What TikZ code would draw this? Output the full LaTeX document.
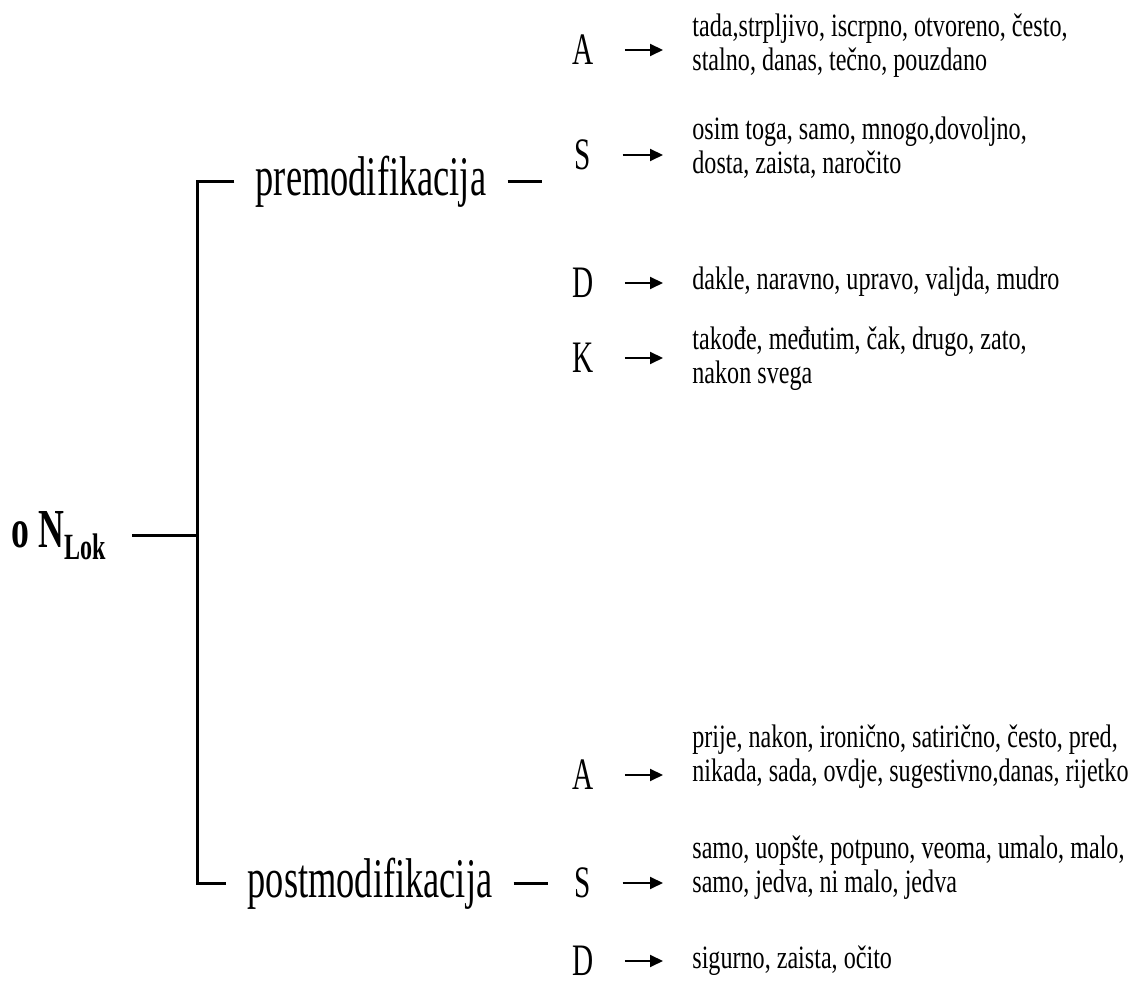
\documentclass[tikz,border=0pt]{standalone}
\usepackage{fontspec}
\setmainfont{Liberation Serif}[FakeStretch=0.65]
\newfontfamily\wordfont{Liberation Serif}[FakeStretch=0.74]
\usetikzlibrary{arrows.meta}

\begin{document}
\begin{tikzpicture}[x=0.5pt,y=-0.5pt,
    branch/.style={line width=1.5pt},
    lvl/.style={font=\fontsize{28}{30}\selectfont, inner xsep=10.5pt, inner ysep=0pt},
    tag/.style={font=\fontsize{22.5}{24}\selectfont, inner xsep=15.5pt, inner ysep=0pt},
    words/.style={font=\wordfont\fontsize{16.3}{17}\selectfont, align=left, anchor=west,
                  inner xsep=14.5pt, inner ysep=0pt},
    pointer/.style={line width=1pt, -{Triangle[length=6.5pt,width=6pt]}}]
  \useasboundingbox (0,0) rectangle (1132,983);
  \node[font=\bfseries\fontsize{27.5}{29}\selectfont, anchor=east, inner xsep=13pt]
    (root) at (132,536) {o N\raisebox{-6pt}{\fontsize{18.5}{18.5}\selectfont Lok}};
  \coordinate (fork) at (197,536);
  \node[lvl] (pre)  at (371,182) {premodifikacija};
  \node[lvl] (post) at (370,884) {postmodifikacija};
  \coordinate (pre-end)  at (542,182);
  \coordinate (post-end) at (548,884);
  \draw[branch] (root.east) -- (fork);
  \draw[branch] (pre.west) -| (fork) |- (post.west);
  \draw[branch] (pre.east) -- (pre-end);
  \draw[branch] (post.east) -- (post-end);
  \foreach \n/\y/\wy/\lab/\txt in {
      pa/50/46/A/{tada,strpljivo, iscrpno, otvoreno, često,\\stalno, danas, tečno, pouzdano},
      ps/155/148/S/{osim toga, samo, mnogo,dovoljno,\\dosta, zaista, naročito},
      pd/283/282/D/{dakle, naravno, upravo, valjda, mudro},
      pk/358/359/K/{takođe, međutim, čak, drugo, zato,\\nakon svega},
      qa/775/757/A/{prije, nakon, ironično, satirično, često, pred,\\nikada, sada, ovdje, sugestivno,danas, rijetko},
      qs/883/868/S/{samo, uopšte, potpuno, veoma, umalo, malo,\\samo, jedva, ni malo, jedva},
      qd/961/961/D/{sigurno, zaista, očito}}
  {
    \node[tag] (\n) at (583,\y) {\lab};
    \node[words] (\n-w) at (663,\wy) {\txt};
    \draw[pointer] (\n.east) -- (\n.east -| \n-w.west);
  }
\end{tikzpicture}
\end{document}
